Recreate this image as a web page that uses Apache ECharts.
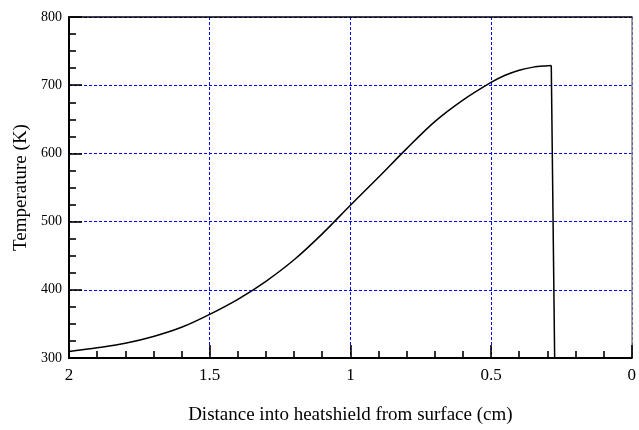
<!DOCTYPE html>
<html><head><meta charset="utf-8">
<script src="https://cdn.jsdelivr.net/npm/echarts@6/dist/echarts.min.js"></script>
<style>html,body{margin:0;padding:0;background:#fff}#c{width:639px;height:430px}</style>
</head><body><div id="c"></div>
<script>
const distance = [2.0,1.9,1.8,1.7,1.6,1.5,1.4,1.3,1.2,1.1,1.0,0.9,0.8,0.7,0.6,0.5,0.45,0.4,0.35,0.3,0.286,0.274];
const temperature = [309.5,315,321.5,331.5,345,364,386,412.5,444,482,524,565,607,646.5,678,704,714.5,722,726.5,728.6,729,300];
const xTickLabels = ['2','1.5','1','0.5','0'];
const xTitle = 'Distance into heatshield from surface (cm)';
const yTitle = 'Temperature (K)';

const font = 'Liberation Serif';
const pts = distance.map((d,i)=>[d,temperature[i]]);
const n = pts.length;
const chart = echarts.init(document.getElementById('c'));
const gridLine = {show:true, lineStyle:{color:'#0000ff', type:[3,2], width:1}};
chart.setOption({
  animation:false,
  grid:{left:69,right:3,top:17,bottom:69,containLabel:false},
  xAxis:[{
    type:'value', inverse:true, min:0, max:2, interval:0.5, position:'bottom',
    name:xTitle, nameLocation:'middle', nameGap:48,
    nameTextStyle:{fontFamily:font,fontSize:19,color:'#000'},
    axisLine:{show:true,onZero:false,lineStyle:{color:'#000',width:2}},
    axisTick:{show:true,inside:true,length:13,lineStyle:{color:'#000',width:1.6}},
    minorTick:{show:true,splitNumber:5,length:7,lineStyle:{color:'#000',width:1.6}},
    axisLabel:{fontFamily:font,fontSize:17,color:'#000',margin:9,
      formatter:v=>xTickLabels[Math.round((2-v)/0.5)]},
    splitLine:gridLine
  },{
    type:'value', inverse:true, min:0, max:2, position:'top',
    axisLine:{show:true,onZero:false,lineStyle:{color:'#000',width:1.5}},
    axisTick:{show:false},axisLabel:{show:false},splitLine:{show:false}
  }],
  yAxis:[{
    type:'value', min:300, max:800, interval:100, position:'left',
    name:yTitle, nameLocation:'middle', nameGap:38, nameRotate:90,
    nameTextStyle:{fontFamily:font,fontSize:19,color:'#000'},
    axisLine:{show:true,onZero:false,lineStyle:{color:'#000',width:2}},
    axisTick:{show:true,inside:true,length:13,lineStyle:{color:'#000',width:1.6}},
    minorTick:{show:true,splitNumber:4,length:7,lineStyle:{color:'#000',width:1.6}},
    axisLabel:{fontFamily:font,fontSize:14,color:'#000',margin:7},
    splitLine:gridLine
  },{
    type:'value', min:300, max:800, position:'right',
    axisLine:{show:true,onZero:false,lineStyle:{color:'#888',width:1.5}},
    axisTick:{show:false},axisLabel:{show:false},splitLine:{show:false}
  }],
  series:[{
    type:'line', xAxisIndex:0, yAxisIndex:0,
    data:pts.slice(0,n-1),
    showSymbol:false, symbol:'none', smooth:0.3,
    lineStyle:{color:'#000',width:1.5}
  },{
    type:'line', xAxisIndex:0, yAxisIndex:0,
    data:pts.slice(n-2),
    showSymbol:false, symbol:'none', smooth:false,
    lineStyle:{color:'#000',width:1.5}
  }]
});
</script></body></html>
